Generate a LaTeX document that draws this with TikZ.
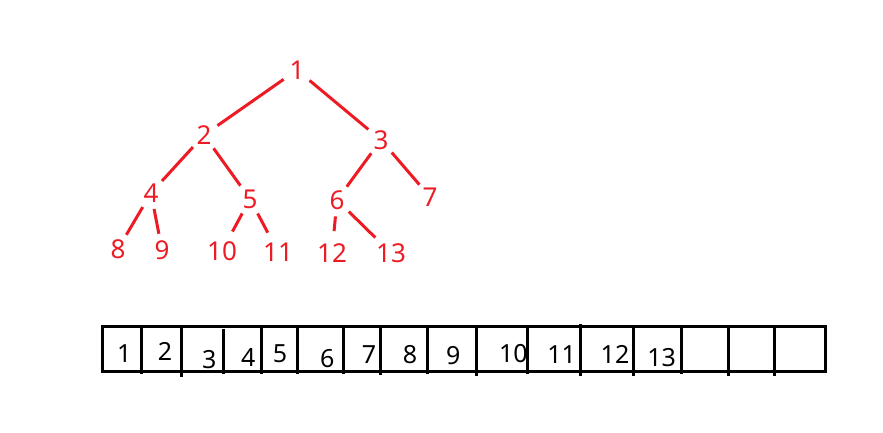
\documentclass[tikz,border=0pt]{standalone}
\usepackage{fontspec}
\setmainfont{Noto Sans}
\usepackage{tkz-graph}
\usetikzlibrary{arrows}
\usetikzlibrary{shapes}
\definecolor{paintred}{RGB}{237,28,36}

\begin{document}
\begin{tikzpicture}[x = 1pt, y = -1pt]
\useasboundingbox (0,0) rectangle (883,433);
\tikzstyle{VertexStyle} = []
\tikzstyle{EdgeStyle} = [line width = 3pt, color = paintred, shorten < = 3pt, shorten > = 3pt]
\tikzstyle{heapStyle}=[shape = circle, minimum size = 24pt, inner sep = 1pt, text = paintred, font = \fontsize{26}{30}\selectfont]
\tikzstyle{cellStyle}=[inner sep = 0pt, text = black, font = \fontsize{25}{29}\selectfont]
\tikzstyle{arrayStyle}=[line width = 3pt, black]
% the heap as a tree
\Vertex[style = heapStyle, x = 297, y = 70, L = {1}]{v1}
\Vertex[style = heapStyle, x = 204, y = 135, L = {2}]{v2}
\Vertex[style = heapStyle, x = 381, y = 140, L = {3}]{v3}
\Vertex[style = heapStyle, x = 151, y = 193, L = {4}]{v4}
\Vertex[style = heapStyle, x = 250, y = 199, L = {5}]{v5}
\Vertex[style = heapStyle, x = 337, y = 200, L = {6}]{v6}
\Vertex[style = heapStyle, x = 430, y = 197, L = {7}]{v7}
\Vertex[style = heapStyle, x = 118, y = 249, L = {8}]{v8}
\Vertex[style = heapStyle, x = 162, y = 250, L = {9}]{v9}
\Vertex[style = heapStyle, x = 222, y = 251, L = {10}]{v10}
\Vertex[style = heapStyle, x = 278, y = 252, L = {11}]{v11}
\Vertex[style = heapStyle, x = 332, y = 253, L = {12}]{v12}
\Vertex[style = heapStyle, x = 391, y = 253, L = {13}]{v13}
\Edge(v1)(v2)
\Edge(v1)(v3)
\Edge(v2)(v4)
\Edge(v2)(v5)
\Edge(v3)(v6)
\Edge(v3)(v7)
\Edge(v4)(v8)
\Edge(v4)(v9)
\Edge(v5)(v10)
\Edge(v5)(v11)
\Edge(v6)(v12)
\Edge(v6)(v13)
% the heap as an array
\draw[arrayStyle] (102,326.5) rectangle (825,371.5);
\draw[arrayStyle] (141.7,326.5) -- (141.7,374);
\draw[arrayStyle] (181,326.5) -- (181,377);
\draw[arrayStyle] (223,329) -- (223,374);
\draw[arrayStyle] (261,326.5) -- (261,374);
\draw[arrayStyle] (297,326.5) -- (297,374);
\draw[arrayStyle] (343,326.5) -- (343,374);
\draw[arrayStyle] (380.7,326.5) -- (380.7,375);
\draw[arrayStyle] (427,326.5) -- (427,374);
\draw[arrayStyle] (476,326.5) -- (476,375.7);
\draw[arrayStyle] (527.7,326.5) -- (527.7,374);
\draw[arrayStyle] (580,324) -- (580,375.7);
\draw[arrayStyle] (633,326.5) -- (633,375.7);
\draw[arrayStyle] (681,326.5) -- (681,374);
\draw[arrayStyle] (728,326.5) -- (728,375.7);
\draw[arrayStyle] (774,326.5) -- (774,375.7);
\node[cellStyle] (c1) at (124.3,353.3) {1};
\node[cellStyle] (c2) at (165,351.7) {2};
\node[cellStyle] (c3) at (209.3,360) {3};
\node[cellStyle] (c4) at (248.3,357.7) {4};
\node[cellStyle] (c5) at (280,353.3) {5};
\node[cellStyle] (c6) at (327.3,358.3) {6};
\node[cellStyle] (c7) at (369,355) {7};
\node[cellStyle] (c8) at (410,355) {8};
\node[cellStyle] (c9) at (453.3,355.7) {9};
\node[cellStyle] (c10) at (513.3,353.3) {10};
\node[cellStyle] (c11) at (561.7,354.3) {11};
\node[cellStyle] (c12) at (615,354.3) {12};
\node[cellStyle] (c13) at (661.7,357.7) {13};
\end{tikzpicture}
\end{document}
